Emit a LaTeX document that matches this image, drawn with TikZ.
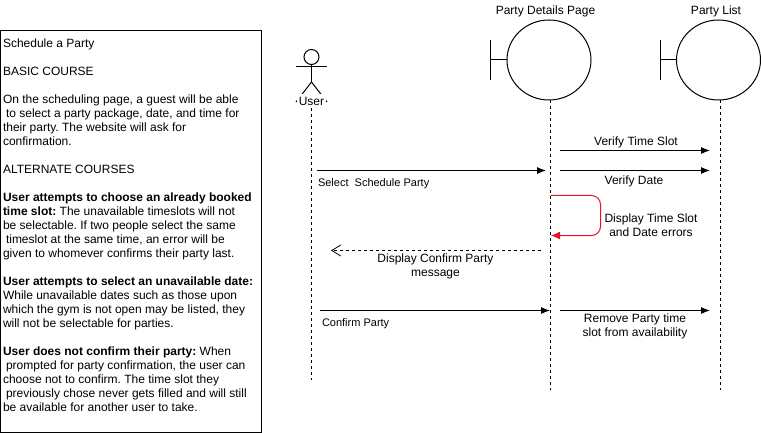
\documentclass[tikz,border=0pt]{standalone}
\usepackage{fontspec}
\setmainfont{Liberation Sans}
\usetikzlibrary{shapes.geometric,arrows.meta}
\definecolor{errred}{RGB}{224,20,36}
\newcommand{\fs}[1]{\fontsize{#1}{14}\selectfont}
\frenchspacing
\tikzset{
  every node/.style={inner sep=0pt,outer sep=0pt},
  line/.style={line width=1pt,black},
  lifeline/.style={line width=1pt,black,dash pattern=on 3pt off 3pt},
  msg/.style={line width=1pt,black,-{Latex[length=9pt,width=7pt]}},
  reply/.style={line width=0.8pt,black,dash pattern=on 3pt off 3pt,-{Straight Barb[length=9pt,width=11pt]}},
  selfmsg/.style={line width=1pt,errred,rounded corners=9pt,-{Latex[length=9pt,width=8pt]}},
  boundary/.style={ellipse,draw,line width=1pt,minimum width=84pt,minimum height=80pt},
  lbl/.style={font=\fs{12},align=center,text depth=0pt},
  small/.style={font=\fs{11},anchor=west}
}
\begin{document}
\begin{tikzpicture}[x=1pt,y=-1pt]
\useasboundingbox[fill=white] (0,0) rectangle (761,433);
% description box
\node[draw,line width=1pt,anchor=north west,minimum width=260.5pt,minimum height=401.5pt] (box) at (0.5,30.5) {};
\node[anchor=north west,align=left,font=\fs{12}] (desc) at (3,38.7) {Schedule a Party\\[14pt]
BASIC COURSE\\[14pt]
On the scheduling page, a guest will be able\\
\hspace*{3pt}to select a party package, date, and time for\\
their party. The website will ask for\\
confirmation.\\[14pt]
ALTERNATE COURSES\\[14pt]
\textbf{User attempts to choose an already booked}\\
\textbf{time slot:} The unavailable timeslots will not\\
be selectable. If two people select the same\\
\hspace*{3pt}timeslot at the same time, an error will be\\
given to whomever confirms their party last.\\[14pt]
\textbf{User attempts to select an unavailable date:}\\
While unavailable dates such as those upon\\
which the gym is not open may be listed, they\\
will not be selectable for parties.\\[14pt]
\textbf{User does not confirm their party:} When\\
\hspace*{3pt}prompted for party confirmation, the user can\\
choose not to confirm. The time slot they\\
\hspace*{3pt}previously chose never gets filled and will still\\
be available for another user to take.};
% actor
\node[circle,draw,line width=1pt,minimum size=15pt] (head) at (311.5,57) {};
\coordinate (shoulderL) at (296,67);
\coordinate (shoulderR) at (327,67);
\coordinate (neck) at (311.5,67);
\coordinate (hip) at (311.5,82);
\coordinate (footL) at (296,102);
\coordinate (footR) at (327,102);
\draw[line] (head.south) -- (hip);
\draw[line] (shoulderL) -- (shoulderR);
\draw[line] (footL) -- (hip) -- (footR);
\node[lbl,fill=white,minimum width=29pt,minimum height=14pt] (user) at (311.5,101) {User};
\coordinate (userEnd) at (311,380);
\draw[lifeline] (user.south) ++(-0.5,0) -- (userEnd);
% boundaries
\node[boundary] (details) at (549,60) {};
\node[boundary] (list) at (718.5,60) {};
\coordinate (detTickTop) at (490.5,40);
\coordinate (detTickBot) at (490.5,80);
\coordinate (detTickMid) at (490.5,60);
\coordinate (listTickTop) at (660.5,40);
\coordinate (listTickBot) at (660.5,80);
\coordinate (listTickMid) at (660.5,60);
\draw[line] (detTickTop) -- (detTickBot);
\draw[line] (detTickMid) -- (details.west);
\draw[line] (listTickTop) -- (listTickBot);
\draw[line] (listTickMid) -- (list.west);
\node[lbl] (detailsL) at (545.5,10) {Party Details Page};
\node[lbl] (listL) at (716,10) {Party List};
\coordinate (detTop) at (550.5,100);
\coordinate (detEnd) at (550.5,390);
\coordinate (listTop) at (720.5,100);
\coordinate (listEnd) at (720.5,390);
\draw[lifeline] (detTop) -- (detEnd);
\draw[lifeline] (listTop) -- (listEnd);
% messages
\coordinate (a1) at (560,150.5); \coordinate (a2) at (710,150.5);
\coordinate (b1) at (560,170.5); \coordinate (b2) at (710,170.5);
\coordinate (c1) at (317,170.5); \coordinate (c2) at (546,170.5);
\coordinate (d1) at (550.5,195.5); \coordinate (d2) at (600.5,195.5);
\coordinate (d3) at (600.5,235.5); \coordinate (d4) at (551,235.5);
\coordinate (e1) at (541,250.5); \coordinate (e2) at (331,250.5);
\coordinate (f1) at (320,310.5); \coordinate (f2) at (550,310.5);
\coordinate (g1) at (560,310.5); \coordinate (g2) at (710,310.5);
\draw[msg] (a1) -- (a2);
\draw[msg] (b1) -- (b2);
\draw[msg] (c1) -- (c2);
\draw[selfmsg] (d1) -- (d2) -- (d3) -- (d4);
\draw[reply] (e1) -- (e2);
\draw[msg] (f1) -- (f2);
\draw[msg] (g1) -- (g2);
% labels
\node[lbl] (la) at (636,141) {Verify Time Slot};
\node[lbl] (lb) at (634,180.5) {Verify Date};
\node[small] (lc) at (318,183.5) {Select\ \ Schedule Party};
\node[lbl] (ld) at (651,225) {Display Time Slot\\and Date errors};
\node[lbl] (le) at (435.5,265.5) {Display Confirm Party\\message};
\node[small] (lf) at (322,323.5) {Confirm Party};
\node[lbl] (lg) at (635,325) {Remove Party time\\slot from availability};
\end{tikzpicture}
\end{document}
